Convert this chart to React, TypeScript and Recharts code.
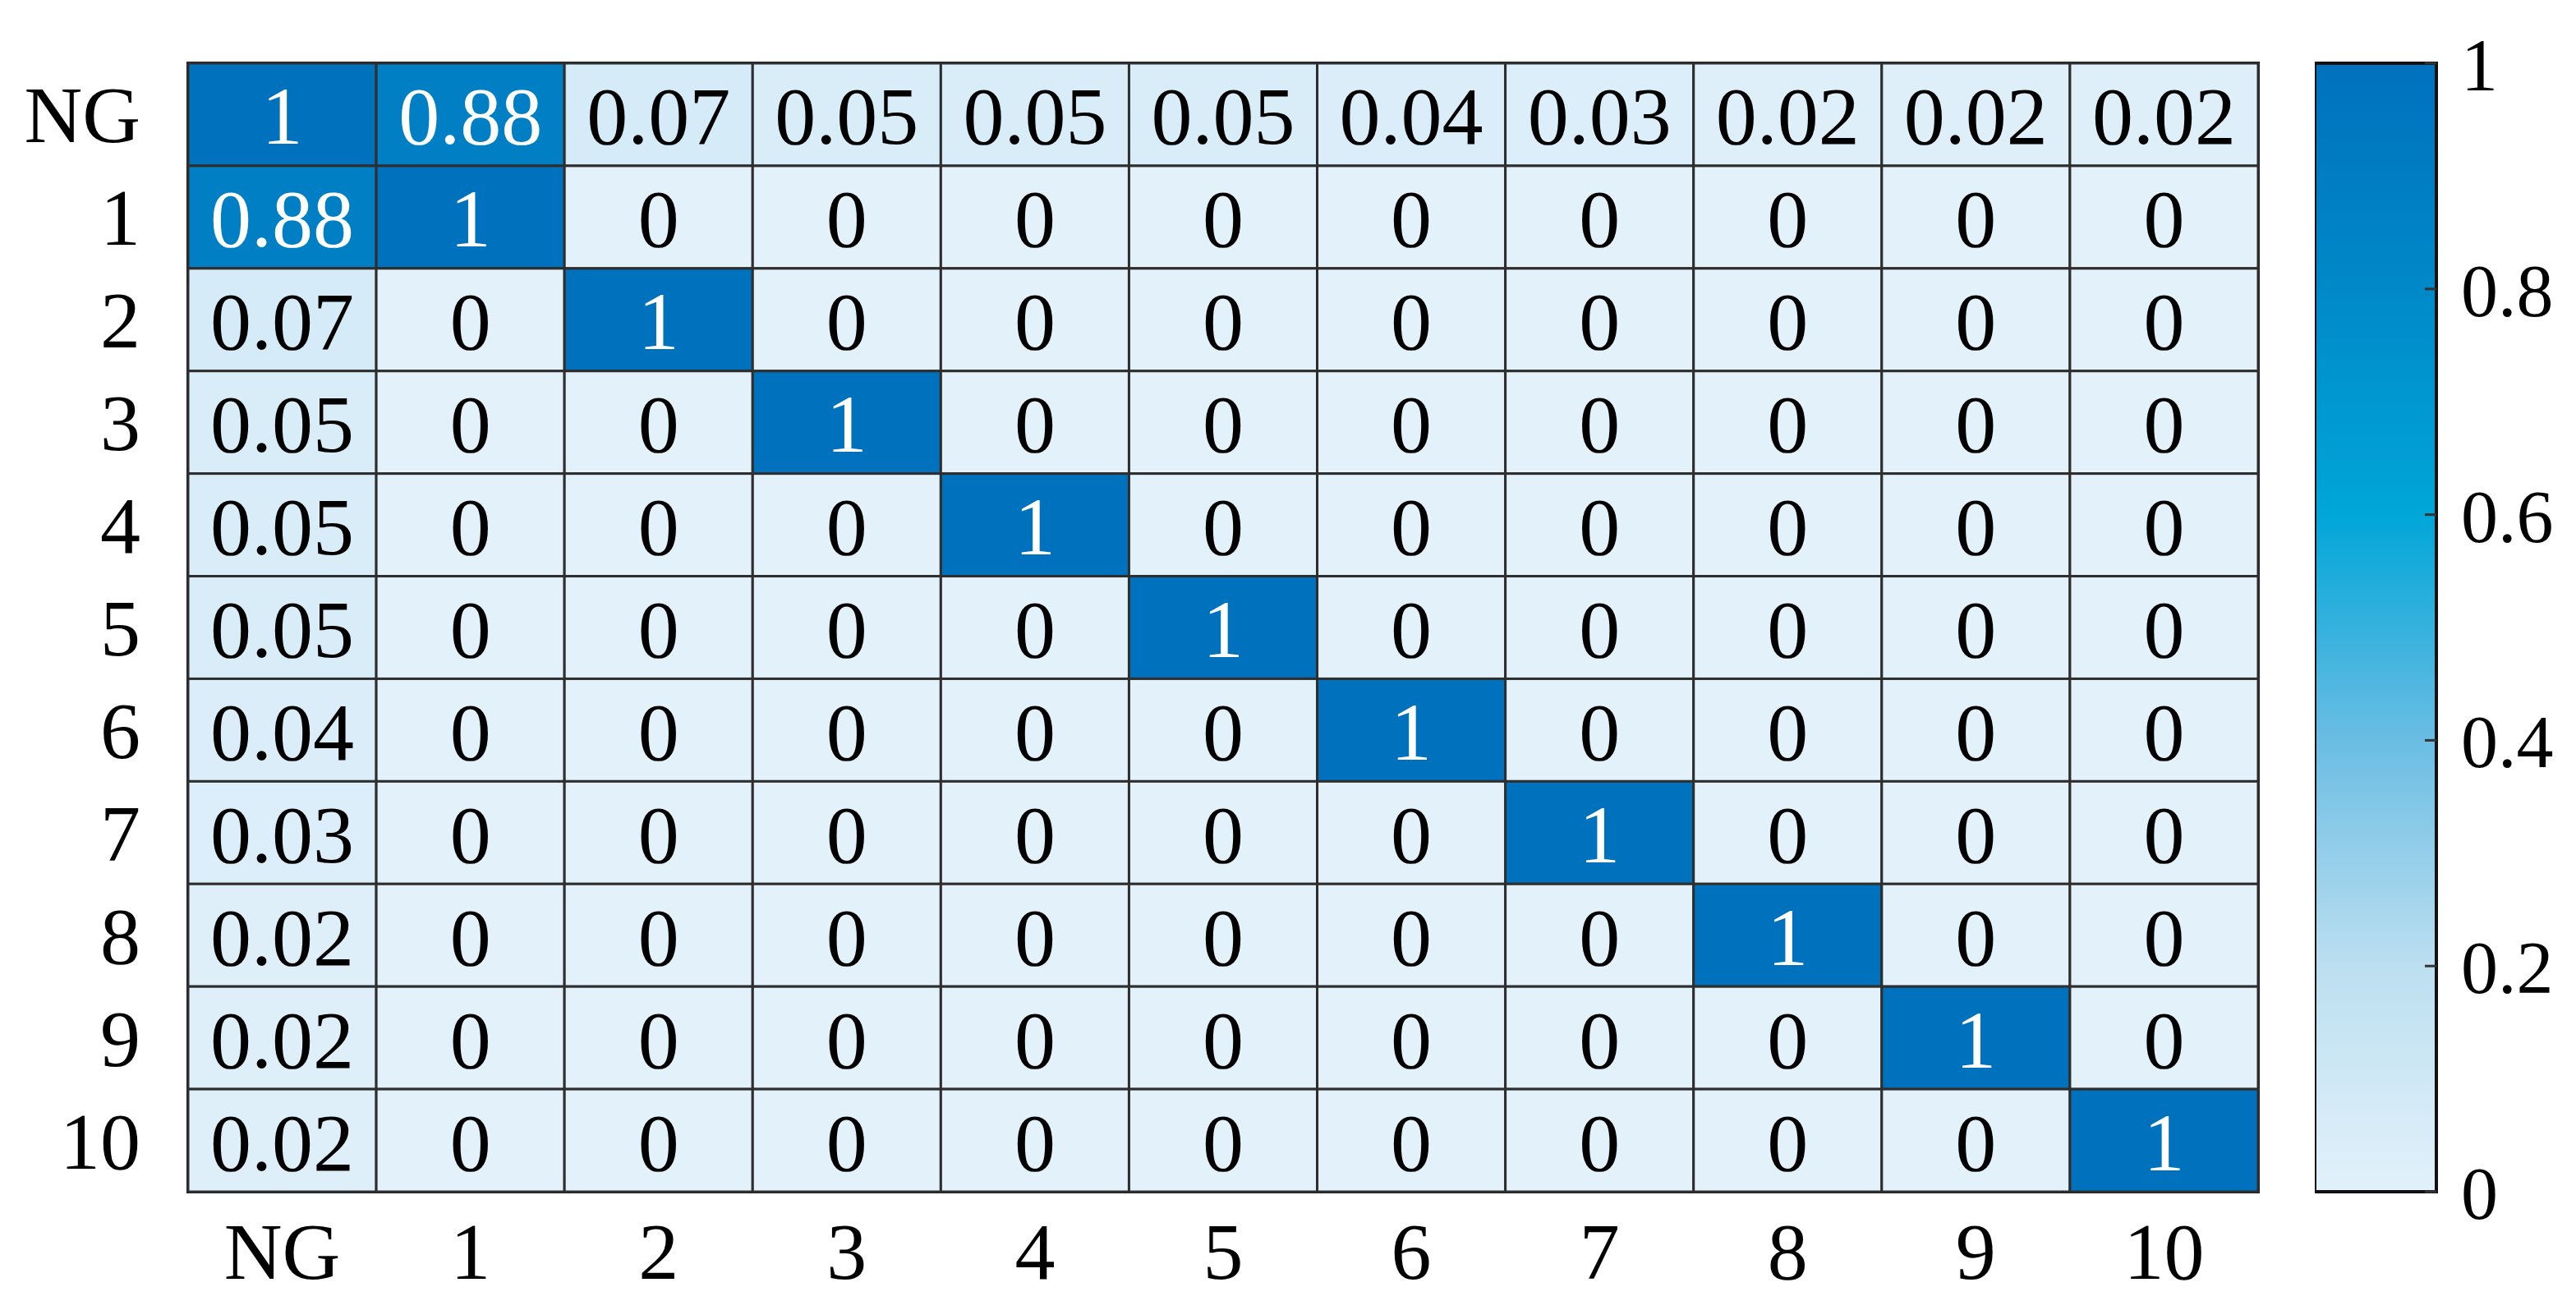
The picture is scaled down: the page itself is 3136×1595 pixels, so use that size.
import React from 'react';
import { ScatterChart, Scatter, XAxis, YAxis, ReferenceArea, BarChart, Bar } from 'recharts';

// ---------- data ----------
const categories = ['NG', '1', '2', '3', '4', '5', '6', '7', '8', '9', '10'];

const rowNG = [1, 0.88, 0.07, 0.05, 0.05, 0.05, 0.04, 0.03, 0.02, 0.02, 0.02];
const row1 = [0.88, 1, 0, 0, 0, 0, 0, 0, 0, 0, 0];
const row2 = [0.07, 0, 1, 0, 0, 0, 0, 0, 0, 0, 0];
const row3 = [0.05, 0, 0, 1, 0, 0, 0, 0, 0, 0, 0];
const row4 = [0.05, 0, 0, 0, 1, 0, 0, 0, 0, 0, 0];
const row5 = [0.05, 0, 0, 0, 0, 1, 0, 0, 0, 0, 0];
const row6 = [0.04, 0, 0, 0, 0, 0, 1, 0, 0, 0, 0];
const row7 = [0.03, 0, 0, 0, 0, 0, 0, 1, 0, 0, 0];
const row8 = [0.02, 0, 0, 0, 0, 0, 0, 0, 1, 0, 0];
const row9 = [0.02, 0, 0, 0, 0, 0, 0, 0, 0, 1, 0];
const row10 = [0.02, 0, 0, 0, 0, 0, 0, 0, 0, 0, 1];
const matrix = [rowNG, row1, row2, row3, row4, row5, row6, row7, row8, row9, row10];

const colorbarTicks = [0, 0.2, 0.4, 0.6, 0.8, 1];

// colormap stops (value, rgb)
const cmapStops: [number, number[]][] = [
  [0, [226, 241, 250]],
  [0.2, [188, 223, 240]],
  [0.4, [106, 189, 227]],
  [0.6, [0, 166, 216]],
  [0.8, [0, 137, 201]],
  [1, [0, 113, 189]],
];

// ---------- layout ----------
const W = 3136;
const H = 1595;
const PLOT_LEFT = 229;
const PLOT_RIGHT = 2749;
const PLOT_TOP = 77;
const PLOT_BOTTOM = 1451;
const N = categories.length;
const CW = (PLOT_RIGHT - PLOT_LEFT) / N;
const CH = (PLOT_BOTTOM - PLOT_TOP) / N;
const CB_LEFT = 2818;
const CB_RIGHT = 2966;
const FONT = "'Liberation Serif', 'Times New Roman', Times, serif";

function colorFor(v: number): string {
  for (let i = 0; i < cmapStops.length - 1; i++) {
    const [v0, c0] = cmapStops[i];
    const [v1, c1] = cmapStops[i + 1];
    if (v >= v0 && v <= v1) {
      const t = (v - v0) / (v1 - v0);
      const c = c0.map((a, k) => Math.round(a + (c1[k] - a) * t));
      return `rgb(${c[0]},${c[1]},${c[2]})`;
    }
  }
  const c = cmapStops[cmapStops.length - 1][1];
  return `rgb(${c[0]},${c[1]},${c[2]})`;
}

const cells = matrix.flatMap((row, r) => row.map((v, c) => ({ x: c, y: r, v })));
const idx = categories.map((_, i) => i);

const CellShape = (props: any) => {
  const { cx, cy, payload } = props;
  if (cx == null || cy == null) return null;
  const v = payload.v as number;
  return (
    <g>
      <rect
        x={cx - CW / 2}
        y={cy - CH / 2}
        width={CW}
        height={CH}
        fill={colorFor(v)}
        stroke="#2e2e2e"
        strokeWidth={3}
      />
      <text
        x={cx}
        y={cy + 36}
        textAnchor="middle"
        fontFamily={FONT}
        fontSize={100}
        fill={v > 0.5 ? '#ffffff' : '#000000'}
      >
        {String(v)}
      </text>
    </g>
  );
};

const XTick = (props: any) => {
  const { x, y, payload } = props;
  return (
    <text x={x} y={y + 106} textAnchor="middle" fontFamily={FONT} fontSize={98} fill="#000">
      {categories[payload.value]}
    </text>
  );
};

const YTick = (props: any) => {
  const { x, y, payload } = props;
  return (
    <text x={x - 58} y={y + 34} textAnchor="end" fontFamily={FONT} fontSize={98} fill="#000">
      {categories[payload.value]}
    </text>
  );
};

const CbTick = (props: any) => {
  const { x, y, payload } = props;
  return (
    <g>
      <line x1={x - 14} x2={x} y1={y} y2={y} stroke="#333" strokeWidth={3} />
      <text x={x + 30} y={y + 33} textAnchor="start" fontFamily={FONT} fontSize={90} fill="#000">
        {String(payload.value)}
      </text>
    </g>
  );
};

const cbData = [{ name: 'cb', v: 1 }];

export default function App() {
  return (
    <div style={{ position: 'absolute', left: 0, top: 0, width: W, height: H, background: '#fff' }}>
      <div style={{ position: 'absolute', left: 0, top: 0 }}>
        <ScatterChart
          width={W}
          height={H}
          margin={{ top: PLOT_TOP, right: W - PLOT_RIGHT, bottom: 0, left: PLOT_LEFT - 200 }}
        >
          <XAxis
            dataKey="x"
            type="number"
            domain={[-0.5, N - 0.5]}
            ticks={idx}
            interval={0}
            height={H - PLOT_BOTTOM}
            axisLine={false}
            tickLine={false}
            tickSize={0}
            tickMargin={0}
            tick={<XTick />}
          />
          <YAxis
            dataKey="y"
            type="number"
            reversed
            domain={[-0.5, N - 0.5]}
            ticks={idx}
            interval={0}
            width={200}
            axisLine={false}
            tickLine={false}
            tickSize={0}
            tickMargin={0}
            tick={<YTick />}
          />
          <Scatter data={cells} shape={<CellShape />} isAnimationActive={false} />
          <ReferenceArea
            x1={-0.5}
            x2={N - 0.5}
            y1={-0.5}
            y2={N - 0.5}
            fill="none"
            stroke="#1a1a1a"
            strokeWidth={4}
            ifOverflow="visible"
          />
        </ScatterChart>
      </div>
      <div style={{ position: 'absolute', left: CB_LEFT, top: 0 }}>
        <BarChart
          width={W - CB_LEFT}
          height={H}
          data={cbData}
          margin={{ top: PLOT_TOP, right: 0, bottom: H - PLOT_BOTTOM, left: 0 }}
          barCategoryGap={0}
        >
          <defs>
            <linearGradient id="cbGrad" x1="0" y1="1" x2="0" y2="0">
              {cmapStops.map(([v, c]) => (
                <stop key={v} offset={v} stopColor={`rgb(${c[0]},${c[1]},${c[2]})`} />
              ))}
            </linearGradient>
          </defs>
          <XAxis dataKey="name" hide />
          <YAxis
            orientation="right"
            type="number"
            domain={[0, 1]}
            ticks={colorbarTicks}
            interval={0}
            width={W - CB_RIGHT}
            axisLine={false}
            tickLine={false}
            tickSize={0}
            tickMargin={0}
            tick={<CbTick />}
          />
          <Bar dataKey="v" fill="url(#cbGrad)" stroke="#111" strokeWidth={4} isAnimationActive={false} />
        </BarChart>
      </div>
    </div>
  );
}
